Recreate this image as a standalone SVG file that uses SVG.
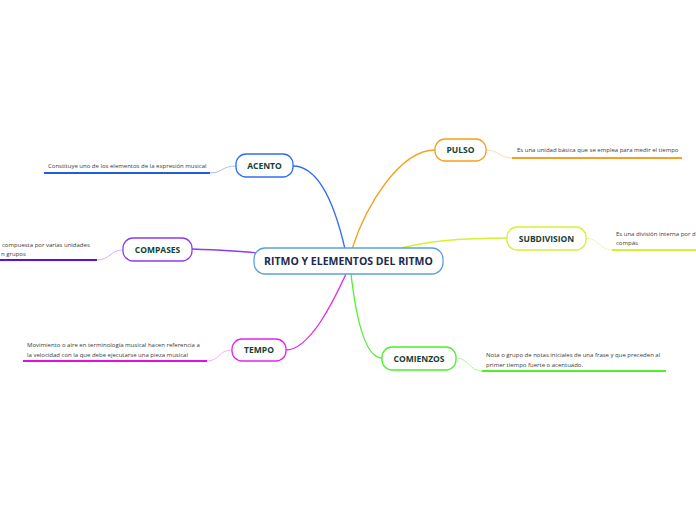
<svg xmlns="http://www.w3.org/2000/svg" width="696" height="520" viewBox="0 0 696 520">
<style>
.node rect{fill:#fff;stroke-width:1.3}
.lbl{font-family:"Open Sans","Liberation Sans",sans-serif;font-weight:bold;font-size:8.5px;fill:#124234;text-anchor:middle}
.main{font-family:"Open Sans","Liberation Sans",sans-serif;font-weight:bold;font-size:10.5px;fill:#1b2a4e;text-anchor:middle}
.desc{font-family:"Open Sans","Liberation Sans",sans-serif;font-size:6px;fill:#3a3a3a}
.conn path{fill:none}
</style>
<rect width="696" height="520" fill="#fff"/>
<g id="connectors" class="conn">
<path d="M293,166 C320,166 336,210 345,249" stroke="#2f6ef5" stroke-width="1.3"/>
<path d="M435,150 C400,150 366,205 352,249" stroke="#f5a020" stroke-width="1.3"/>
<path d="M507,238 C470,238 425,241 398,249" stroke="#d6f034" stroke-width="1.3"/>
<path d="M192,249 C220,250 240,251 258,253" stroke="#8a3cf0" stroke-width="1.3"/>
<path d="M286,350 C310,350 334,300 346,274" stroke="#e624e6" stroke-width="1.3"/>
<path d="M382,358 C362,358 354,300 351,274" stroke="#4cf02c" stroke-width="1.3"/>
<path d="M236,166 C222,166 222,173 210,173" stroke="#8ab0f8" stroke-width="0.8"/>
<path d="M123,250 C110,250 110,260 97,260" stroke="#c0a0f8" stroke-width="0.8"/>
<path d="M232,350 C218,350 220,361 207,361" stroke="#f0a0f0" stroke-width="0.8"/>
<path d="M486,150 C498,150 500,158 512,158" stroke="#f8d098" stroke-width="0.8"/>
<path d="M586,238 C598,238 600,250 612,250" stroke="#e6f490" stroke-width="0.8"/>
<path d="M456,358 C468,358 470,371 482,371" stroke="#a0f490" stroke-width="0.8"/>
<path d="M44,173 H210" stroke="#1f5ce0" stroke-width="1.8"/>
<path d="M0,260 H97" stroke="#5a10e0" stroke-width="1.8"/>
<path d="M23,361 H207" stroke="#e010e0" stroke-width="1.8"/>
<path d="M512,158 H682" stroke="#f5a020" stroke-width="1.8"/>
<path d="M612,250 H696" stroke="#d6f034" stroke-width="1.8"/>
<path d="M482,371 H666" stroke="#4cf02c" stroke-width="1.8"/>
</g>
<g id="central" class="node"><rect x="254" y="248" width="189" height="26" rx="11" stroke="#5aa2dc"/><text class="main" x="348.5" y="265">RITMO Y ELEMENTOS DEL RITMO</text></g>
<g id="acento" class="node"><rect x="236" y="154" width="57" height="23" rx="10" stroke="#2f6ef5"/><text class="lbl" x="264.5" y="169">ACENTO</text></g>
<g id="compases" class="node"><rect x="123" y="238" width="69" height="23" rx="10" stroke="#8a3cf0"/><text class="lbl" x="157.5" y="253">COMPASES</text></g>
<g id="tempo" class="node"><rect x="232" y="339" width="54" height="22" rx="10" stroke="#e624e6"/><text class="lbl" x="259" y="353">TEMPO</text></g>
<g id="pulso" class="node"><rect x="435" y="139" width="51" height="22" rx="10" stroke="#f5a020"/><text class="lbl" x="460.5" y="153">PULSO</text></g>
<g id="subdivision" class="node"><rect x="507" y="227" width="79" height="23" rx="10" stroke="#d6f034"/><text class="lbl" x="546.5" y="241.5">SUBDIVISION</text></g>
<g id="comienzos" class="node"><rect x="382" y="347" width="74" height="23" rx="10" stroke="#4cf02c"/><text class="lbl" x="419" y="361.5">COMIENZOS</text></g>
<g id="texts">
<text class="desc" x="48" y="168">Constituye uno de los elementos de la expresión musical</text>
<text class="desc" x="2" y="247">compuesta por varias unidades</text>
<text class="desc" x="1" y="256">n grupos</text>
<text class="desc" x="27" y="347">Movimiento o aire en terminología musical hacen referencia a</text>
<text class="desc" x="27" y="357">la velocidad con la que debe ejecutarse una pieza musical</text>
<text class="desc" x="517" y="152">Es una unidad básica que se emplea para medir el tiempo</text>
<text class="desc" x="616" y="236">Es una división interna por d</text>
<text class="desc" x="616" y="245">compás</text>
<text class="desc" x="486" y="357">Nota o grupo de notas iniciales de una frase y que preceden al</text>
<text class="desc" x="486" y="367">primer tiempo fuerte o acentuado.</text>
</g>
</svg>
